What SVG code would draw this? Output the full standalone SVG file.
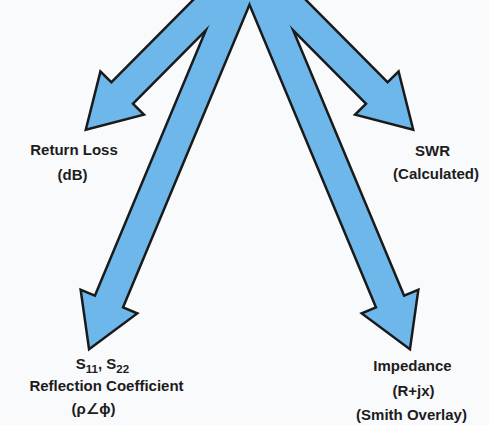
<svg xmlns="http://www.w3.org/2000/svg" xmlns:xlink="http://www.w3.org/1999/xlink" width="489" height="425" viewBox="0 0 489 425">
<style>
  .lbl { font-family: "Liberation Sans", "DejaVu Sans", Arial, sans-serif; font-weight: bold; font-size: 15px; fill: #1c1c1c; text-anchor: middle; }
  .sub { font-size: 11.5px; }
  .outline use { fill: #1a1a1a; stroke: #1a1a1a; stroke-width: 5; stroke-linejoin: miter; stroke-miterlimit: 12; }
  .body use { fill: #6eb7ea; stroke: none; }
</style>
<defs>
  <polygon id="a-rl" points="234.4,-39.9 111.4,84.1 101.1,73.9 87.5,128 141.5,114.0 131.2,103.8 254.2,-20.1"/>
  <polygon id="a-swr" points="264.6,-39.9 387.6,84.1 397.9,73.9 411.5,128 357.5,114.0 367.8,103.8 244.8,-20.1"/>
  <polygon id="a-s11" points="234.6,-35.4 95.6,297.3 82.2,291.7 90,347 134.8,313.7 121.4,308.1 260.4,-24.6"/>
  <polygon id="a-imp" points="264.4,-35.4 403.4,297.3 416.8,291.7 409,347 364.2,313.7 377.6,308.1 238.6,-24.6"/>
</defs>
<rect x="0" y="0" width="489" height="425" fill="#f9fafc"/>
<g id="connectors">
  <g class="outline">
    <use xlink:href="#a-rl" href="#a-rl"/>
    <use xlink:href="#a-swr" href="#a-swr"/>
    <use xlink:href="#a-s11" href="#a-s11"/>
    <use xlink:href="#a-imp" href="#a-imp"/>
  </g>
  <g class="body">
    <use xlink:href="#a-rl" href="#a-rl"/>
    <use xlink:href="#a-swr" href="#a-swr"/>
    <use xlink:href="#a-s11" href="#a-s11"/>
    <use xlink:href="#a-imp" href="#a-imp"/>
  </g>
</g>
<g id="node-return-loss">
  <text class="lbl" x="74" y="154.5">Return Loss</text>
  <text class="lbl" x="72.5" y="179.5">(dB)</text>
</g>
<g id="node-swr">
  <text class="lbl" x="432.5" y="155.5">SWR</text>
  <text class="lbl" x="436" y="178.5">(Calculated)</text>
</g>
<g id="node-reflection">
  <text class="lbl" x="102.5" y="368.5">S<tspan class="sub" dy="4">11</tspan><tspan dy="-4">, S</tspan><tspan class="sub" dy="4">22</tspan></text>
  <text class="lbl" x="106.5" y="391">Reflection Coefficient</text>
  <text class="lbl" x="93.5" y="414">(ρ∠ϕ)</text>
</g>
<g id="node-impedance">
  <text class="lbl" x="412.5" y="371">Impedance</text>
  <text class="lbl" x="413.5" y="396">(R+jx)</text>
  <text class="lbl" x="411.5" y="420">(Smith Overlay)</text>
</g>
</svg>
